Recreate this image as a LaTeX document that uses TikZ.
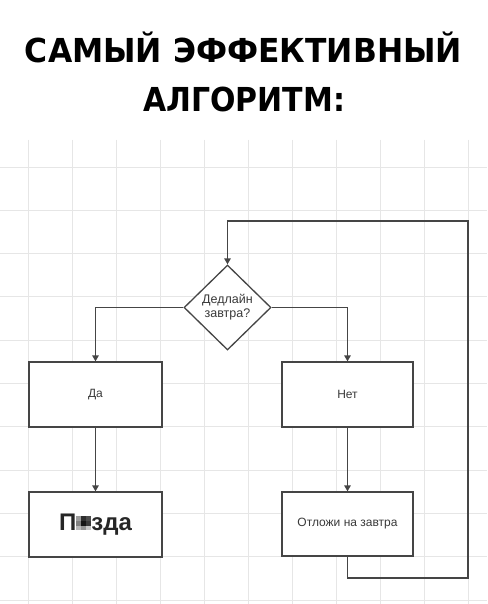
\documentclass[tikz,border=0pt]{standalone}
\usepackage{fontspec}
\setmainfont{Liberation Sans}
\newfontfamily\titlefont{DejaVu Sans}
\usetikzlibrary{shapes.geometric,arrows.meta}
\definecolor{gridc}{HTML}{E6E6E6}
\definecolor{linec}{HTML}{454545}
\definecolor{txtc}{HTML}{3A3A3A}
\newcommand\mcell[1]{\textcolor[gray]{#1}{\rule{5pt}{4.8pt}}}
\newcommand\mosaic{\makebox[15pt][l]{\rlap{\raisebox{9.6pt}{\mcell{.62}\mcell{.18}\mcell{.3}}}\rlap{\raisebox{4.8pt}{\mcell{.5}\mcell{.08}\mcell{.22}}}\mcell{.72}\mcell{.58}\mcell{.78}}}
\tikzset{
  gridline/.style={draw=gridc, line width=1pt},
  box/.style={draw=linec, line width=1.3pt, fill=white, rectangle, inner sep=0pt, text=txtc,
    font=\fontsize{12}{14}\selectfont},
  decision/.style={draw=linec, line width=1.3pt, fill=white, diamond, aspect=1.02,
    minimum width=87pt, minimum height=85pt, inner sep=0pt, text=txtc, align=center,
    font=\fontsize{12.5}{14}\selectfont},
  arr/.style={draw=linec, line width=1.3pt, -{Triangle[length=6pt,width=6.5pt]}},
  titletext/.style={font=\titlefont\bfseries\fontsize{33}{36}\selectfont, text=black, inner sep=0pt, anchor=base}
}
\begin{document}
\begin{tikzpicture}[x=1pt,y=-1pt]
\useasboundingbox[fill=white] (0,0) rectangle (487,604);
% grid
\foreach \i in {0,...,10} {
  \draw[gridline] (0,{167+43.3*\i}) -- (487,{167+43.3*\i});
  \draw[gridline] ({28.5+44*\i},140) -- ({28.5+44*\i},604);
}
% title
\node[titletext] (t1) at (243.5,63) {\resizebox{437pt}{\height}{САМЫЙ ЭФФЕКТИВНЫЙ}};
\node[titletext] (t2) at (244,112) {\resizebox{202pt}{\height}{АЛГОРИТМ:}};
% nodes
\node[decision] (d) at (227.5,307.5) {Дедлайн\\завтра?};
\node[box, minimum width=133pt, minimum height=65pt] (da) at (95.5,394.5) {Да};
\node[box, minimum width=131pt, minimum height=65pt] (net) at (347.5,394.5) {Нет};
\node[box, minimum width=133pt, minimum height=65pt, text=black!85,
  font=\bfseries\fontsize{24}{26}\selectfont] (pz) at (95.5,524.5) {П\mosaic зда};
\node[box, minimum width=131pt, minimum height=64pt] (otl) at (347.5,524) {Отложи на завтра};
\coordinate (c1) at (468,578);
\coordinate (c2) at (468,221);
% connectors
\draw[arr] (d.west) -| (da.north);
\draw[arr] (d.east) -| (net.north);
\draw[arr] (da.south) -- (pz.north);
\draw[arr] (net.south) -- (otl.north);
\draw[arr] (otl.south) |- (c1) -- (c2) -| (d.north);
\end{tikzpicture}
\end{document}
